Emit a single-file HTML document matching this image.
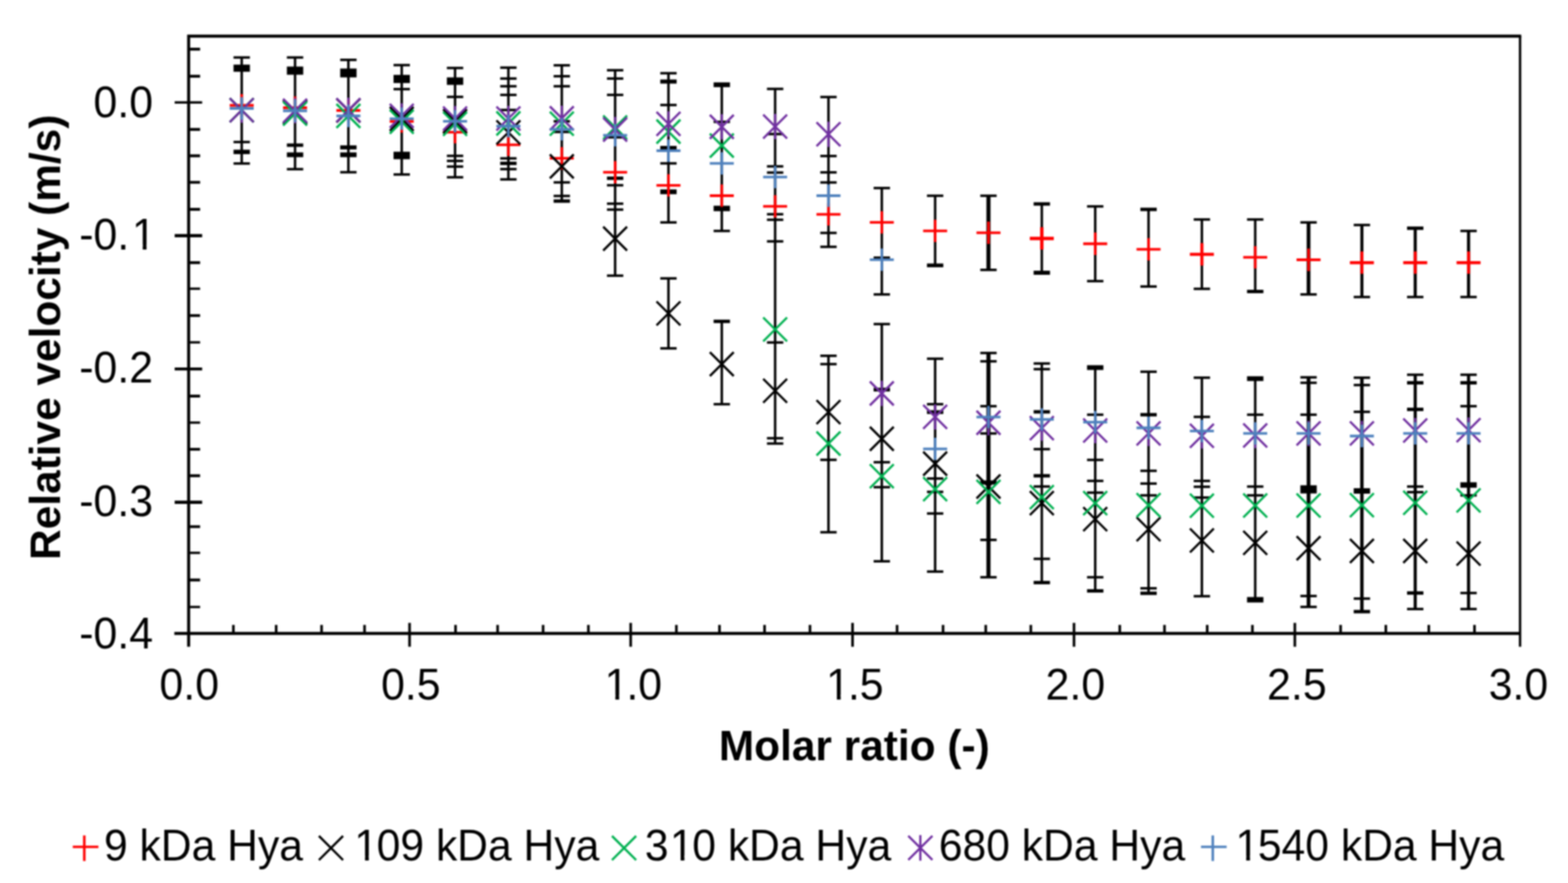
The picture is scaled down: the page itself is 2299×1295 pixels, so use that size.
<!DOCTYPE html>
<html lang="en"><head><meta charset="utf-8"><title>Relative velocity vs molar ratio</title>
<style>
html,body{margin:0;padding:0;background:#fff;}
body{width:2299px;height:1295px;overflow:hidden;font-family:"Liberation Sans",Arial,sans-serif;}
svg{display:block;}
</style></head>
<body>
<svg width="2299" height="1295" viewBox="0 0 2299 1295">
<rect width="2299" height="1295" fill="#fff"/>
<g id="plot" filter="url(#b)">
<defs><filter id="b" x="0" y="0" width="100%" height="100%" filterUnits="userSpaceOnUse" color-interpolation-filters="sRGB"><feGaussianBlur stdDeviation="1.1" color-interpolation-filters="sRGB"/></filter></defs>
<g stroke="#000" stroke-width="4.4" fill="none" stroke-linecap="butt">
<path d="M276.6 948.5 V53.0 H2230.4"/>
<path d="M2228.7 53.0 V948.5" stroke-width="3.5"/>
<path d="M255.6 929.0 H2228.7"/>
<path d="M276.6 72.1 H293.4" stroke-width="4.2"/>
<path d="M276.6 111.8 H293.4" stroke-width="4.2"/>
<path d="M256.1 150.3 H296.4" stroke-width="3.4"/>
<path d="M276.6 189.8 H293.4" stroke-width="4.2"/>
<path d="M276.6 228.5 H293.4" stroke-width="4.2"/>
<path d="M276.6 267.4 H293.4" stroke-width="4.0"/>
<path d="M276.6 307.0 H293.4" stroke-width="4.2"/>
<path d="M256.1 345.6 H296.4" stroke-width="4.8"/>
<path d="M276.6 385.2 H293.4" stroke-width="4.2"/>
<path d="M276.6 423.4 H293.4" stroke-width="3.4"/>
<path d="M276.6 462.8 H293.4" stroke-width="4.0"/>
<path d="M276.6 502.1 H293.4" stroke-width="3.4"/>
<path d="M256.1 541.2 H296.4" stroke-width="4.2"/>
<path d="M276.6 580.9 H293.4" stroke-width="4.2"/>
<path d="M276.6 619.8 H293.4" stroke-width="3.4"/>
<path d="M276.6 658.9 H293.4" stroke-width="4.0"/>
<path d="M276.6 697.7 H293.4" stroke-width="4.2"/>
<path d="M256.1 736.6 H296.4" stroke-width="4.8"/>
<path d="M276.6 772.4 H293.4" stroke-width="4.0"/>
<path d="M276.6 810.8 H293.4" stroke-width="3.4"/>
<path d="M276.6 850.6 H293.4" stroke-width="4.2"/>
<path d="M276.6 890.2 H293.4" stroke-width="3.4"/>
<path d="M342.2 916.5 V929.0 M404.9 916.5 V929.0 M471.5 916.5 V929.0 M534.5 916.5 V929.0 M600.5 913.5 V948.5 M667.9 916.5 V929.0 M729.6 916.5 V929.0 M796.3 916.5 V929.0 M862.7 916.5 V929.0 M924.7 913.5 V948.5 M991.7 916.5 V929.0 M1054.9 916.5 V929.0 M1121.0 916.5 V929.0 M1187.6 916.5 V929.0 M1250.0 913.5 V948.5 M1315.3 916.5 V929.0 M1382.7 916.5 V929.0 M1445.3 916.5 V929.0 M1511.4 916.5 V929.0 M1574.7 913.5 V948.5 M1641.8 916.5 V929.0 M1707.4 916.5 V929.0 M1770.0 916.5 V929.0 M1836.3 916.5 V929.0 M1898.5 913.5 V948.5 M1965.6 916.5 V929.0 M2031.9 916.5 V929.0 M2094.9 916.5 V929.0 M2161.9 916.5 V929.0 " stroke-width="3.8"/>
</g>
<g fill="none"><path d="M354.4 84.3V239.8" stroke="#000" stroke-width="3.6"/><path d="M342.4 84.3H366.4" stroke="#000" stroke-width="3.6"/><path d="M342.4 100H366.4" stroke="#000" stroke-width="10.5"/><path d="M342.4 208.3H366.4" stroke="#000" stroke-width="3.6"/><path d="M342.4 222.8H366.4" stroke="#000" stroke-width="6.5"/><path d="M342.4 239.8H366.4" stroke="#000" stroke-width="3.6"/><path d="M432.6 84.3V248.1" stroke="#000" stroke-width="3.6"/><path d="M420.6 84.3H444.6" stroke="#000" stroke-width="3.6"/><path d="M420.6 103.6H444.6" stroke="#000" stroke-width="12"/><path d="M420.6 212.9H444.6" stroke="#000" stroke-width="5"/><path d="M420.6 227H444.6" stroke="#000" stroke-width="7"/><path d="M420.6 248.1H444.6" stroke="#000" stroke-width="3.6"/><path d="M510.8 87.8V252.6" stroke="#000" stroke-width="3.6"/><path d="M498.8 87.8H522.8" stroke="#000" stroke-width="3.6"/><path d="M498.8 107H522.8" stroke="#000" stroke-width="13"/><path d="M498.8 216.2H522.8" stroke="#000" stroke-width="6"/><path d="M498.8 227H522.8" stroke="#000" stroke-width="7"/><path d="M498.8 252.6H522.8" stroke="#000" stroke-width="3.6"/><path d="M589.0 95.5V255.9" stroke="#000" stroke-width="3.6"/><path d="M577.0 95.5H601.0" stroke="#000" stroke-width="3.6"/><path d="M577.0 115.8H601.0" stroke="#000" stroke-width="12"/><path d="M577.0 130.7H601.0" stroke="#000" stroke-width="3.6"/><path d="M577.0 228H601.0" stroke="#000" stroke-width="11"/><path d="M577.0 255.9H601.0" stroke="#000" stroke-width="3.6"/><path d="M667.2 99.7V260" stroke="#000" stroke-width="3.6"/><path d="M655.2 99.7H679.2" stroke="#000" stroke-width="3.6"/><path d="M655.2 119H679.2" stroke="#000" stroke-width="11"/><path d="M655.2 142.1H679.2" stroke="#000" stroke-width="3.6"/><path d="M655.2 228.6H679.2" stroke="#000" stroke-width="3.6"/><path d="M655.2 236H679.2" stroke="#000" stroke-width="3.6"/><path d="M655.2 244.3H679.2" stroke="#000" stroke-width="3.6"/><path d="M655.2 260H679.2" stroke="#000" stroke-width="3.6"/><path d="M745.4 99.2V263.1" stroke="#000" stroke-width="3.6"/><path d="M733.4 99.2H757.4" stroke="#000" stroke-width="3.6"/><path d="M733.4 115.2H757.4" stroke="#000" stroke-width="3.6"/><path d="M733.4 126.5H757.4" stroke="#000" stroke-width="3.6"/><path d="M733.4 139.2H757.4" stroke="#000" stroke-width="3.6"/><path d="M733.4 161.3H757.4" stroke="#000" stroke-width="3.6"/><path d="M733.4 232.3H757.4" stroke="#000" stroke-width="3.6"/><path d="M733.4 239.6H757.4" stroke="#000" stroke-width="5"/><path d="M733.4 248H757.4" stroke="#000" stroke-width="3.6"/><path d="M733.4 263.1H757.4" stroke="#000" stroke-width="3.6"/><path d="M823.7 95.8V294.9" stroke="#000" stroke-width="3.6"/><path d="M811.7 95.8H835.7" stroke="#000" stroke-width="3.6"/><path d="M811.7 111.8H835.7" stroke="#000" stroke-width="3.6"/><path d="M811.7 126.5H835.7" stroke="#000" stroke-width="3.6"/><path d="M811.7 177.9H835.7" stroke="#000" stroke-width="3.6"/><path d="M811.7 193.5H835.7" stroke="#000" stroke-width="3.6"/><path d="M811.7 267.5H835.7" stroke="#000" stroke-width="3.6"/><path d="M811.7 287.4H835.7" stroke="#000" stroke-width="3.6"/><path d="M811.7 294.9H835.7" stroke="#000" stroke-width="5"/><path d="M901.9 103V404.3" stroke="#000" stroke-width="3.6"/><path d="M889.9 103H913.9" stroke="#000" stroke-width="3.6"/><path d="M889.9 115.2H913.9" stroke="#000" stroke-width="3.6"/><path d="M889.9 139.2H913.9" stroke="#000" stroke-width="3.6"/><path d="M889.9 201.4H913.9" stroke="#000" stroke-width="3.6"/><path d="M889.9 261.4H913.9" stroke="#000" stroke-width="5"/><path d="M889.9 271.7H913.9" stroke="#000" stroke-width="3.6"/><path d="M889.9 298.7H913.9" stroke="#000" stroke-width="3.6"/><path d="M889.9 307.4H913.9" stroke="#000" stroke-width="3.6"/><path d="M889.9 404.3H913.9" stroke="#000" stroke-width="3.6"/><path d="M980.1 107.4V326.2" stroke="#000" stroke-width="3.6"/><path d="M980.1 408.3V510.9" stroke="#000" stroke-width="3.6"/><path d="M968.1 107.4H992.1" stroke="#000" stroke-width="3.6"/><path d="M968.1 119.6H992.1" stroke="#000" stroke-width="6"/><path d="M968.1 154H992.1" stroke="#000" stroke-width="3.6"/><path d="M968.1 217H992.1" stroke="#000" stroke-width="6"/><path d="M968.1 239.6H992.1" stroke="#000" stroke-width="3.6"/><path d="M968.1 281.3H992.1" stroke="#000" stroke-width="7"/><path d="M968.1 326.2H992.1" stroke="#000" stroke-width="3.6"/><path d="M968.1 408.3H992.1" stroke="#000" stroke-width="3.6"/><path d="M968.1 510.9H992.1" stroke="#000" stroke-width="3.6"/><path d="M1058.3 124.3V338.7" stroke="#000" stroke-width="3.6"/><path d="M1058.3 471.3V592.8" stroke="#000" stroke-width="3.6"/><path d="M1046.3 124.3H1070.3" stroke="#000" stroke-width="7"/><path d="M1046.3 178.7H1070.3" stroke="#000" stroke-width="3.6"/><path d="M1046.3 305.7H1070.3" stroke="#000" stroke-width="8"/><path d="M1046.3 338.7H1070.3" stroke="#000" stroke-width="3.6"/><path d="M1046.3 471.3H1070.3" stroke="#000" stroke-width="5"/><path d="M1046.3 592.8H1070.3" stroke="#000" stroke-width="3.6"/><path d="M1136.5 130.4V650.5" stroke="#000" stroke-width="3.6"/><path d="M1124.5 130.4H1148.5" stroke="#000" stroke-width="3.6"/><path d="M1124.5 196.6H1148.5" stroke="#000" stroke-width="3.6"/><path d="M1124.5 244H1148.5" stroke="#000" stroke-width="3.6"/><path d="M1124.5 253.1H1148.5" stroke="#000" stroke-width="3.6"/><path d="M1124.5 314.2H1148.5" stroke="#000" stroke-width="3.6"/><path d="M1124.5 322.3H1148.5" stroke="#000" stroke-width="3.6"/><path d="M1124.5 354H1148.5" stroke="#000" stroke-width="3.6"/><path d="M1124.5 502.3H1148.5" stroke="#000" stroke-width="3.6"/><path d="M1124.5 642.7H1148.5" stroke="#000" stroke-width="3.6"/><path d="M1124.5 650.5H1148.5" stroke="#000" stroke-width="3.6"/><path d="M1214.7 142.3V362" stroke="#000" stroke-width="3.6"/><path d="M1214.7 521.8V780.6" stroke="#000" stroke-width="3.6"/><path d="M1202.7 142.3H1226.7" stroke="#000" stroke-width="3.6"/><path d="M1202.7 228.8H1226.7" stroke="#000" stroke-width="3.6"/><path d="M1202.7 252.8H1226.7" stroke="#000" stroke-width="3.6"/><path d="M1202.7 267.6H1226.7" stroke="#000" stroke-width="3.6"/><path d="M1202.7 341.6H1226.7" stroke="#000" stroke-width="3.6"/><path d="M1202.7 362H1226.7" stroke="#000" stroke-width="3.6"/><path d="M1202.7 521.8H1226.7" stroke="#000" stroke-width="3.6"/><path d="M1202.7 534H1226.7" stroke="#000" stroke-width="3.6"/><path d="M1202.7 674.4H1226.7" stroke="#000" stroke-width="3.6"/><path d="M1202.7 780.6H1226.7" stroke="#000" stroke-width="3.6"/><path d="M1292.9 275.8V431.8" stroke="#000" stroke-width="3.6"/><path d="M1292.9 475.3V823.2" stroke="#000" stroke-width="3.6"/><path d="M1280.9 275.8H1304.9" stroke="#000" stroke-width="3.6"/><path d="M1280.9 377.9H1304.9" stroke="#000" stroke-width="3.6"/><path d="M1280.9 431.8H1304.9" stroke="#000" stroke-width="3.6"/><path d="M1280.9 475.3H1304.9" stroke="#000" stroke-width="3.6"/><path d="M1280.9 571.4H1304.9" stroke="#000" stroke-width="5.5"/><path d="M1280.9 677.9H1304.9" stroke="#000" stroke-width="3.6"/><path d="M1280.9 714.5H1304.9" stroke="#000" stroke-width="3.6"/><path d="M1280.9 823.2H1304.9" stroke="#000" stroke-width="3.6"/><path d="M1371.1 287.1V389.2" stroke="#000" stroke-width="3.6"/><path d="M1371.1 526.1V838.3" stroke="#000" stroke-width="3.6"/><path d="M1359.1 287.1H1383.1" stroke="#000" stroke-width="3.6"/><path d="M1359.1 389.2H1383.1" stroke="#000" stroke-width="5.5"/><path d="M1359.1 526.1H1383.1" stroke="#000" stroke-width="3.6"/><path d="M1359.1 592.8H1383.1" stroke="#000" stroke-width="3.6"/><path d="M1359.1 604.4H1383.1" stroke="#000" stroke-width="5.5"/><path d="M1359.1 701.8H1383.1" stroke="#000" stroke-width="3.6"/><path d="M1359.1 721.4H1383.1" stroke="#000" stroke-width="3.6"/><path d="M1359.1 753.1H1383.1" stroke="#000" stroke-width="3.6"/><path d="M1359.1 838.3H1383.1" stroke="#000" stroke-width="3.6"/><path d="M1449.3 287.1V395.8" stroke="#000" stroke-width="6"/><path d="M1449.3 517.7V846.6" stroke="#000" stroke-width="6"/><path d="M1437.3 287.1H1461.3" stroke="#000" stroke-width="3.6"/><path d="M1437.3 395.8H1461.3" stroke="#000" stroke-width="3.6"/><path d="M1437.3 517.7H1461.3" stroke="#000" stroke-width="3.6"/><path d="M1437.3 529.9H1461.3" stroke="#000" stroke-width="3.6"/><path d="M1437.3 595.7H1461.3" stroke="#000" stroke-width="3.6"/><path d="M1437.3 635.7H1461.3" stroke="#000" stroke-width="3.6"/><path d="M1437.3 707.6H1461.3" stroke="#000" stroke-width="6"/><path d="M1437.3 791.8H1461.3" stroke="#000" stroke-width="3.6"/><path d="M1437.3 846.6H1461.3" stroke="#000" stroke-width="3.6"/><path d="M1527.5 299.1V400" stroke="#000" stroke-width="3.6"/><path d="M1527.5 533.1V854.4" stroke="#000" stroke-width="3.6"/><path d="M1515.5 299.1H1539.5" stroke="#000" stroke-width="5"/><path d="M1515.5 400H1539.5" stroke="#000" stroke-width="6"/><path d="M1515.5 533.1H1539.5" stroke="#000" stroke-width="3.6"/><path d="M1515.5 541.4H1539.5" stroke="#000" stroke-width="3.6"/><path d="M1515.5 604H1539.5" stroke="#000" stroke-width="5"/><path d="M1515.5 658.7H1539.5" stroke="#000" stroke-width="3.6"/><path d="M1515.5 697.8H1539.5" stroke="#000" stroke-width="5"/><path d="M1515.5 713.5H1539.5" stroke="#000" stroke-width="3.6"/><path d="M1515.5 819.6H1539.5" stroke="#000" stroke-width="3.6"/><path d="M1515.5 854.4H1539.5" stroke="#000" stroke-width="5"/><path d="M1605.8 302.7V412.3" stroke="#000" stroke-width="3.6"/><path d="M1605.8 539.1V866.6" stroke="#000" stroke-width="3.6"/><path d="M1593.8 302.7H1617.8" stroke="#000" stroke-width="3.6"/><path d="M1593.8 412.3H1617.8" stroke="#000" stroke-width="3.6"/><path d="M1593.8 539.1H1617.8" stroke="#000" stroke-width="7"/><path d="M1593.8 608.2H1617.8" stroke="#000" stroke-width="3.6"/><path d="M1593.8 674.5H1617.8" stroke="#000" stroke-width="3.6"/><path d="M1593.8 705.3H1617.8" stroke="#000" stroke-width="3.6"/><path d="M1593.8 722.5H1617.8" stroke="#000" stroke-width="3.6"/><path d="M1593.8 846.6H1617.8" stroke="#000" stroke-width="3.6"/><path d="M1593.8 866.6H1617.8" stroke="#000" stroke-width="5"/><path d="M1684.0 307.1V420.2" stroke="#000" stroke-width="3.6"/><path d="M1684.0 545.2V870.1" stroke="#000" stroke-width="3.6"/><path d="M1672.0 307.1H1696.0" stroke="#000" stroke-width="5"/><path d="M1672.0 420.2H1696.0" stroke="#000" stroke-width="3.6"/><path d="M1672.0 545.2H1696.0" stroke="#000" stroke-width="3.6"/><path d="M1672.0 608.2H1696.0" stroke="#000" stroke-width="5"/><path d="M1672.0 690.5H1696.0" stroke="#000" stroke-width="3.6"/><path d="M1672.0 709.2H1696.0" stroke="#000" stroke-width="3.6"/><path d="M1672.0 726.5H1696.0" stroke="#000" stroke-width="3.6"/><path d="M1672.0 862.8H1696.0" stroke="#000" stroke-width="3.6"/><path d="M1672.0 870.1H1696.0" stroke="#000" stroke-width="5"/><path d="M1762.2 321.9V423.6" stroke="#000" stroke-width="3.6"/><path d="M1762.2 553.9V874.4" stroke="#000" stroke-width="3.6"/><path d="M1750.2 321.9H1774.2" stroke="#000" stroke-width="3.6"/><path d="M1750.2 423.6H1774.2" stroke="#000" stroke-width="3.6"/><path d="M1750.2 553.9H1774.2" stroke="#000" stroke-width="3.6"/><path d="M1750.2 611.4H1774.2" stroke="#000" stroke-width="3.6"/><path d="M1750.2 705.3H1774.2" stroke="#000" stroke-width="3.6"/><path d="M1750.2 713.9H1774.2" stroke="#000" stroke-width="3.6"/><path d="M1750.2 729.7H1774.2" stroke="#000" stroke-width="3.6"/><path d="M1750.2 874.4H1774.2" stroke="#000" stroke-width="3.6"/><path d="M1840.4 321.9V427.5" stroke="#000" stroke-width="3.6"/><path d="M1840.4 555.3V879.6" stroke="#000" stroke-width="3.6"/><path d="M1828.4 321.9H1852.4" stroke="#000" stroke-width="3.6"/><path d="M1828.4 427.5H1852.4" stroke="#000" stroke-width="5"/><path d="M1828.4 555.3H1852.4" stroke="#000" stroke-width="7"/><path d="M1828.4 608.2H1852.4" stroke="#000" stroke-width="3.6"/><path d="M1828.4 713.6H1852.4" stroke="#000" stroke-width="3.6"/><path d="M1828.4 726.5H1852.4" stroke="#000" stroke-width="3.6"/><path d="M1828.4 879.6H1852.4" stroke="#000" stroke-width="8"/><path d="M1918.6 326.2V431.8" stroke="#000" stroke-width="5.5"/><path d="M1918.6 553.4V890.1" stroke="#000" stroke-width="5.5"/><path d="M1906.6 326.2H1930.6" stroke="#000" stroke-width="3.6"/><path d="M1906.6 431.8H1930.6" stroke="#000" stroke-width="3.6"/><path d="M1906.6 553.4H1930.6" stroke="#000" stroke-width="3.6"/><path d="M1906.6 561.4H1930.6" stroke="#000" stroke-width="3.6"/><path d="M1906.6 608.2H1930.6" stroke="#000" stroke-width="3.6"/><path d="M1906.6 717.7H1930.6" stroke="#000" stroke-width="12"/><path d="M1906.6 874.1H1930.6" stroke="#000" stroke-width="3.6"/><path d="M1906.6 890.1H1930.6" stroke="#000" stroke-width="3.6"/><path d="M1996.8 330V435.6" stroke="#000" stroke-width="4.5"/><path d="M1996.8 553.9V897" stroke="#000" stroke-width="5"/><path d="M1984.8 330H2008.8" stroke="#000" stroke-width="3.6"/><path d="M1984.8 435.6H2008.8" stroke="#000" stroke-width="3.6"/><path d="M1984.8 553.9H2008.8" stroke="#000" stroke-width="3.6"/><path d="M1984.8 564.7H2008.8" stroke="#000" stroke-width="3.6"/><path d="M1984.8 604H2008.8" stroke="#000" stroke-width="3.6"/><path d="M1984.8 720H2008.8" stroke="#000" stroke-width="8"/><path d="M1984.8 877.9H2008.8" stroke="#000" stroke-width="3.6"/><path d="M1984.8 897H2008.8" stroke="#000" stroke-width="5"/><path d="M2075.0 334.7V435.6" stroke="#000" stroke-width="4.6"/><path d="M2075.0 549.6V893.2" stroke="#000" stroke-width="4.6"/><path d="M2063.0 334.7H2087.0" stroke="#000" stroke-width="5"/><path d="M2063.0 435.6H2087.0" stroke="#000" stroke-width="3.6"/><path d="M2063.0 549.6H2087.0" stroke="#000" stroke-width="3.6"/><path d="M2063.0 561.4H2087.0" stroke="#000" stroke-width="5"/><path d="M2063.0 600.4H2087.0" stroke="#000" stroke-width="5"/><path d="M2063.0 713.6H2087.0" stroke="#000" stroke-width="3.6"/><path d="M2063.0 721.8H2087.0" stroke="#000" stroke-width="3.6"/><path d="M2063.0 869.7H2087.0" stroke="#000" stroke-width="5"/><path d="M2063.0 893.2H2087.0" stroke="#000" stroke-width="3.6"/><path d="M2153.2 338.7V435.6" stroke="#000" stroke-width="4.6"/><path d="M2153.2 549.6V893.2" stroke="#000" stroke-width="4.6"/><path d="M2141.2 338.7H2165.2" stroke="#000" stroke-width="3.6"/><path d="M2141.2 435.6H2165.2" stroke="#000" stroke-width="3.6"/><path d="M2141.2 549.6H2165.2" stroke="#000" stroke-width="3.6"/><path d="M2141.2 561.4H2165.2" stroke="#000" stroke-width="5"/><path d="M2141.2 595.7H2165.2" stroke="#000" stroke-width="3.6"/><path d="M2141.2 711.3H2165.2" stroke="#000" stroke-width="8"/><path d="M2141.2 726.5H2165.2" stroke="#000" stroke-width="3.6"/><path d="M2141.2 869.7H2165.2" stroke="#000" stroke-width="3.6"/><path d="M2141.2 893.2H2165.2" stroke="#000" stroke-width="3.6"/><path d="M336.8 154.5H372.0M354.4 138.1V170.9" stroke="#ff0000" stroke-width="3.8" fill="none"/><path d="M415.0 158.0H450.2M432.6 141.6V174.4" stroke="#ff0000" stroke-width="3.8" fill="none"/><path d="M493.2 162.0H528.4M510.8 145.6V178.4" stroke="#ff0000" stroke-width="3.8" fill="none"/><path d="M571.4 178.1H606.6M589.0 161.7V194.5" stroke="#ff0000" stroke-width="3.8" fill="none"/><path d="M649.6 193.8H684.8M667.2 177.4V210.2" stroke="#ff0000" stroke-width="3.8" fill="none"/><path d="M727.8 212.4H763.0M745.4 196.0V228.8" stroke="#ff0000" stroke-width="3.8" fill="none"/><path d="M806.1 232.2H841.3M823.7 215.8V248.6" stroke="#ff0000" stroke-width="3.8" fill="none"/><path d="M884.3 252.7H919.5M901.9 236.3V269.1" stroke="#ff0000" stroke-width="3.8" fill="none"/><path d="M962.5 271.8H997.7M980.1 255.4V288.2" stroke="#ff0000" stroke-width="3.8" fill="none"/><path d="M1040.7 287.0H1075.9M1058.3 270.6V303.4" stroke="#ff0000" stroke-width="3.8" fill="none"/><path d="M1118.9 302.7H1154.1M1136.5 286.3V319.1" stroke="#ff0000" stroke-width="3.8" fill="none"/><path d="M1197.1 314.4H1232.3M1214.7 298.0V330.8" stroke="#ff0000" stroke-width="3.8" fill="none"/><path d="M1275.3 326.2H1310.5M1292.9 309.8V342.6" stroke="#ff0000" stroke-width="3.8" fill="none"/><path d="M1353.5 338.7H1388.7M1371.1 322.3V355.1" stroke="#ff0000" stroke-width="3.8" fill="none"/><path d="M1431.7 341.3H1466.9M1449.3 324.9V357.7" stroke="#ff0000" stroke-width="3.8" fill="none"/><path d="M1509.9 349.7H1545.1M1527.5 333.3V366.1" stroke="#ff0000" stroke-width="4.9399999999999995" fill="none"/><path d="M1588.2 357.5H1623.4M1605.8 341.1V373.9" stroke="#ff0000" stroke-width="3.8" fill="none"/><path d="M1666.4 365.7H1701.6M1684.0 349.3V382.1" stroke="#ff0000" stroke-width="3.8" fill="none"/><path d="M1744.6 373.0H1779.8M1762.2 356.6V389.4" stroke="#ff0000" stroke-width="4.56" fill="none"/><path d="M1822.8 377.4H1858.0M1840.4 361.0V393.8" stroke="#ff0000" stroke-width="3.8" fill="none"/><path d="M1901.0 381.0H1936.2M1918.6 364.6V397.4" stroke="#ff0000" stroke-width="3.8" fill="none"/><path d="M1979.2 385.2H2014.4M1996.8 368.8V401.6" stroke="#ff0000" stroke-width="4.369999999999999" fill="none"/><path d="M2057.4 385.2H2092.6M2075.0 368.8V401.6" stroke="#ff0000" stroke-width="4.369999999999999" fill="none"/><path d="M2135.6 385.2H2170.8M2153.2 368.8V401.6" stroke="#ff0000" stroke-width="4.369999999999999" fill="none"/><path d="M336.9 144.1L371.9 179.1M336.9 179.1L371.9 144.1" stroke="#000000" stroke-width="3.3" fill="none"/><path d="M415.1 146.8L450.1 181.8M415.1 181.8L450.1 146.8" stroke="#000000" stroke-width="3.3" fill="none"/><path d="M493.3 144.5L528.3 179.5M493.3 179.5L528.3 144.5" stroke="#000000" stroke-width="3.3" fill="none"/><path d="M571.5 156.9L606.5 191.9M571.5 191.9L606.5 156.9" stroke="#000000" stroke-width="3.3" fill="none"/><path d="M649.7 160.3L684.7 195.3M649.7 195.3L684.7 160.3" stroke="#000000" stroke-width="3.3" fill="none"/><path d="M727.9 176.7L762.9 211.7M727.9 211.7L762.9 176.7" stroke="#000000" stroke-width="3.3" fill="none"/><path d="M806.2 226.5L841.2 261.5M806.2 261.5L841.2 226.5" stroke="#000000" stroke-width="3.3" fill="none"/><path d="M884.4 332.5L919.4 367.5M884.4 367.5L919.4 332.5" stroke="#000000" stroke-width="3.3" fill="none"/><path d="M962.6 442.1L997.6 477.1M962.6 477.1L997.6 442.1" stroke="#000000" stroke-width="3.3" fill="none"/><path d="M1040.8 516.5L1075.8 551.5M1040.8 551.5L1075.8 516.5" stroke="#000000" stroke-width="3.3" fill="none"/><path d="M1119.0 555.6L1154.0 590.6M1119.0 590.6L1154.0 555.6" stroke="#000000" stroke-width="3.3" fill="none"/><path d="M1197.2 586.9L1232.2 621.9M1197.2 621.9L1232.2 586.9" stroke="#000000" stroke-width="3.3" fill="none"/><path d="M1275.4 626.0L1310.4 661.0M1275.4 661.0L1310.4 626.0" stroke="#000000" stroke-width="3.3" fill="none"/><path d="M1353.6 662.5L1388.6 697.5M1353.6 697.5L1388.6 662.5" stroke="#000000" stroke-width="3.3" fill="none"/><path d="M1431.8 696.0L1466.8 731.0M1431.8 731.0L1466.8 696.0" stroke="#000000" stroke-width="3.3" fill="none"/><path d="M1510.0 720.3L1545.0 755.3M1510.0 755.3L1545.0 720.3" stroke="#000000" stroke-width="3.3" fill="none"/><path d="M1588.3 743.8L1623.3 778.8M1588.3 778.8L1623.3 743.8" stroke="#000000" stroke-width="3.3" fill="none"/><path d="M1666.5 758.6L1701.5 793.6M1666.5 793.6L1701.5 758.6" stroke="#000000" stroke-width="3.3" fill="none"/><path d="M1744.7 775.2L1779.7 810.2M1744.7 810.2L1779.7 775.2" stroke="#000000" stroke-width="3.3" fill="none"/><path d="M1822.9 778.6L1857.9 813.6M1822.9 813.6L1857.9 778.6" stroke="#000000" stroke-width="3.3" fill="none"/><path d="M1901.1 786.5L1936.1 821.5M1901.1 821.5L1936.1 786.5" stroke="#000000" stroke-width="3.3" fill="none"/><path d="M1979.3 790.5L2014.3 825.5M1979.3 825.5L2014.3 790.5" stroke="#000000" stroke-width="3.3" fill="none"/><path d="M2057.5 790.5L2092.5 825.5M2057.5 825.5L2092.5 790.5" stroke="#000000" stroke-width="3.3" fill="none"/><path d="M2135.7 794.3L2170.7 829.3M2135.7 829.3L2170.7 794.3" stroke="#000000" stroke-width="3.3" fill="none"/><path d="M336.9 144.1L371.9 179.1M336.9 179.1L371.9 144.1" stroke="#00b050" stroke-width="3.3" fill="none"/><path d="M415.1 149.1L450.1 184.1M415.1 184.1L450.1 149.1" stroke="#00b050" stroke-width="3.3" fill="none"/><path d="M493.3 152.5L528.3 187.5M493.3 187.5L528.3 152.5" stroke="#00b050" stroke-width="3.3" fill="none"/><path d="M571.5 161.0L606.5 196.0M571.5 196.0L606.5 161.0" stroke="#00b050" stroke-width="3.3" fill="none"/><path d="M649.7 164.2L684.7 199.2M649.7 199.2L684.7 164.2" stroke="#00b050" stroke-width="3.3" fill="none"/><path d="M727.9 163.5L762.9 198.5M727.9 198.5L762.9 163.5" stroke="#00b050" stroke-width="3.3" fill="none"/><path d="M806.2 163.9L841.2 198.9M806.2 198.9L841.2 163.9" stroke="#00b050" stroke-width="3.3" fill="none"/><path d="M884.4 169.5L919.4 204.5M884.4 204.5L919.4 169.5" stroke="#00b050" stroke-width="3.3" fill="none"/><path d="M962.6 175.5L997.6 210.5M962.6 210.5L997.6 175.5" stroke="#00b050" stroke-width="3.3" fill="none"/><path d="M1040.8 196.0L1075.8 231.0M1040.8 231.0L1075.8 196.0" stroke="#00b050" stroke-width="3.3" fill="none"/><path d="M1119.0 465.6L1154.0 500.6M1119.0 500.6L1154.0 465.6" stroke="#00b050" stroke-width="3.3" fill="none"/><path d="M1197.2 633.0L1232.2 668.0M1197.2 668.0L1232.2 633.0" stroke="#00b050" stroke-width="3.3" fill="none"/><path d="M1275.4 680.8L1310.4 715.8M1275.4 715.8L1310.4 680.8" stroke="#00b050" stroke-width="3.3" fill="none"/><path d="M1353.6 699.9L1388.6 734.9M1353.6 734.9L1388.6 699.9" stroke="#00b050" stroke-width="3.3" fill="none"/><path d="M1431.8 703.8L1466.8 738.8M1431.8 738.8L1466.8 703.8" stroke="#00b050" stroke-width="3.3" fill="none"/><path d="M1510.0 711.6L1545.0 746.6M1510.0 746.6L1545.0 711.6" stroke="#00b050" stroke-width="3.3" fill="none"/><path d="M1588.3 720.3L1623.3 755.3M1588.3 755.3L1623.3 720.3" stroke="#00b050" stroke-width="3.3" fill="none"/><path d="M1666.5 723.3L1701.5 758.3M1666.5 758.3L1701.5 723.3" stroke="#00b050" stroke-width="3.3" fill="none"/><path d="M1744.7 724.2L1779.7 759.2M1744.7 759.2L1779.7 724.2" stroke="#00b050" stroke-width="3.3" fill="none"/><path d="M1822.9 723.8L1857.9 758.8M1822.9 758.8L1857.9 723.8" stroke="#00b050" stroke-width="3.3" fill="none"/><path d="M1901.1 723.8L1936.1 758.8M1901.1 758.8L1936.1 723.8" stroke="#00b050" stroke-width="3.3" fill="none"/><path d="M1979.3 723.3L2014.3 758.3M1979.3 758.3L2014.3 723.3" stroke="#00b050" stroke-width="3.3" fill="none"/><path d="M2057.5 719.8L2092.5 754.8M2057.5 754.8L2092.5 719.8" stroke="#00b050" stroke-width="3.3" fill="none"/><path d="M2135.7 716.3L2170.7 751.3M2135.7 751.3L2170.7 716.3" stroke="#00b050" stroke-width="3.3" fill="none"/><path d="M336.9 144.1L371.9 179.1M336.9 179.1L371.9 144.1M354.4 143.1V180.1" stroke="#7030a0" stroke-width="3.3" fill="none"/><path d="M415.1 144.8L450.1 179.8M415.1 179.8L450.1 144.8M432.6 143.8V180.8" stroke="#7030a0" stroke-width="3.3" fill="none"/><path d="M493.3 144.2L528.3 179.2M493.3 179.2L528.3 144.2M510.8 143.2V180.2" stroke="#7030a0" stroke-width="3.3" fill="none"/><path d="M571.5 152.4L606.5 187.4M571.5 187.4L606.5 152.4M589.0 151.4V188.4" stroke="#7030a0" stroke-width="3.3" fill="none"/><path d="M649.7 156.4L684.7 191.4M649.7 191.4L684.7 156.4M667.2 155.4V192.4" stroke="#7030a0" stroke-width="3.3" fill="none"/><path d="M727.9 156.3L762.9 191.3M727.9 191.3L762.9 156.3M745.4 155.3V192.3" stroke="#7030a0" stroke-width="3.3" fill="none"/><path d="M806.2 156.0L841.2 191.0M806.2 191.0L841.2 156.0M823.7 155.0V192.0" stroke="#7030a0" stroke-width="3.3" fill="none"/><path d="M884.4 172.5L919.4 207.5M884.4 207.5L919.4 172.5M901.9 171.5V208.5" stroke="#7030a0" stroke-width="3.3" fill="none"/><path d="M962.6 164.2L997.6 199.2M962.6 199.2L997.6 164.2M980.1 163.2V200.2" stroke="#7030a0" stroke-width="3.3" fill="none"/><path d="M1040.8 168.5L1075.8 203.5M1040.8 203.5L1075.8 168.5M1058.3 167.5V204.5" stroke="#7030a0" stroke-width="3.3" fill="none"/><path d="M1119.0 168.1L1154.0 203.1M1119.0 203.1L1154.0 168.1M1136.5 167.1V204.1" stroke="#7030a0" stroke-width="3.3" fill="none"/><path d="M1197.2 179.4L1232.2 214.4M1197.2 214.4L1232.2 179.4M1214.7 178.4V215.4" stroke="#7030a0" stroke-width="3.3" fill="none"/><path d="M1275.4 559.5L1310.4 594.5M1275.4 594.5L1310.4 559.5M1292.9 558.5V595.5" stroke="#7030a0" stroke-width="3.3" fill="none"/><path d="M1353.6 593.9L1388.6 628.9M1353.6 628.9L1388.6 593.9M1371.1 592.9V629.9" stroke="#7030a0" stroke-width="3.3" fill="none"/><path d="M1431.8 602.5L1466.8 637.5M1431.8 637.5L1466.8 602.5M1449.3 601.5V638.5" stroke="#7030a0" stroke-width="3.3" fill="none"/><path d="M1510.0 610.4L1545.0 645.4M1510.0 645.4L1545.0 610.4M1527.5 609.4V646.4" stroke="#7030a0" stroke-width="3.3" fill="none"/><path d="M1588.3 613.9L1623.3 648.9M1588.3 648.9L1623.3 613.9M1605.8 612.9V649.9" stroke="#7030a0" stroke-width="3.3" fill="none"/><path d="M1666.5 618.2L1701.5 653.2M1666.5 653.2L1701.5 618.2M1684.0 617.2V654.2" stroke="#7030a0" stroke-width="3.3" fill="none"/><path d="M1744.7 621.7L1779.7 656.7M1744.7 656.7L1779.7 621.7M1762.2 620.7V657.7" stroke="#7030a0" stroke-width="3.3" fill="none"/><path d="M1822.9 621.2L1857.9 656.2M1822.9 656.2L1857.9 621.2M1840.4 620.2V657.2" stroke="#7030a0" stroke-width="3.3" fill="none"/><path d="M1901.1 618.2L1936.1 653.2M1901.1 653.2L1936.1 618.2M1918.6 617.2V654.2" stroke="#7030a0" stroke-width="3.3" fill="none"/><path d="M1979.3 618.2L2014.3 653.2M1979.3 653.2L2014.3 618.2M1996.8 617.2V654.2" stroke="#7030a0" stroke-width="3.3" fill="none"/><path d="M2057.5 613.9L2092.5 648.9M2057.5 648.9L2092.5 613.9M2075.0 612.9V649.9" stroke="#7030a0" stroke-width="3.3" fill="none"/><path d="M2135.7 613.3L2170.7 648.3M2135.7 648.3L2170.7 613.3M2153.2 612.3V649.3" stroke="#7030a0" stroke-width="3.3" fill="none"/><path d="M336.8 159.0H372.0M354.4 142.6V175.4" stroke="#4f81bd" stroke-width="3.8" fill="none"/><path d="M415.0 162.5H450.2M432.6 146.1V178.9" stroke="#4f81bd" stroke-width="3.8" fill="none"/><path d="M493.2 170.0H528.4M510.8 153.6V186.4" stroke="#4f81bd" stroke-width="3.8" fill="none"/><path d="M571.4 174.2H606.6M589.0 157.8V190.6" stroke="#4f81bd" stroke-width="3.8" fill="none"/><path d="M649.6 177.9H684.8M667.2 161.5V194.3" stroke="#4f81bd" stroke-width="3.8" fill="none"/><path d="M727.8 185.0H763.0M745.4 168.6V201.4" stroke="#4f81bd" stroke-width="3.8" fill="none"/><path d="M806.1 189.7H841.3M823.7 173.3V206.1" stroke="#4f81bd" stroke-width="3.8" fill="none"/><path d="M884.3 198.4H919.5M901.9 182.0V214.8" stroke="#4f81bd" stroke-width="3.8" fill="none"/><path d="M962.5 221.0H997.7M980.1 204.6V237.4" stroke="#4f81bd" stroke-width="3.8" fill="none"/><path d="M1040.7 239.6H1075.9M1058.3 223.2V256.0" stroke="#4f81bd" stroke-width="3.8" fill="none"/><path d="M1118.9 259.7H1154.1M1136.5 243.3V276.1" stroke="#4f81bd" stroke-width="3.8" fill="none"/><path d="M1197.1 287.0H1232.3M1214.7 270.6V303.4" stroke="#4f81bd" stroke-width="3.8" fill="none"/><path d="M1275.3 380.8H1310.5M1292.9 364.4V397.2" stroke="#4f81bd" stroke-width="3.8" fill="none"/><path d="M1353.5 658.3H1388.7M1371.1 641.9V674.7" stroke="#4f81bd" stroke-width="3.8" fill="none"/><path d="M1431.7 611.7H1466.9M1449.3 595.3V628.1" stroke="#4f81bd" stroke-width="3.8" fill="none"/><path d="M1509.9 615.2H1545.1M1527.5 598.8V631.6" stroke="#4f81bd" stroke-width="3.8" fill="none"/><path d="M1588.2 619.2H1623.4M1605.8 602.8V635.6" stroke="#4f81bd" stroke-width="3.8" fill="none"/><path d="M1666.4 627.5H1701.6M1684.0 611.1V643.9" stroke="#4f81bd" stroke-width="3.8" fill="none"/><path d="M1744.6 632.2H1779.8M1762.2 615.8V648.6" stroke="#4f81bd" stroke-width="3.8" fill="none"/><path d="M1822.8 635.7H1858.0M1840.4 619.3V652.1" stroke="#4f81bd" stroke-width="3.8" fill="none"/><path d="M1901.0 635.7H1936.2M1918.6 619.3V652.1" stroke="#4f81bd" stroke-width="3.8" fill="none"/><path d="M1979.2 639.5H2014.4M1996.8 623.1V655.9" stroke="#4f81bd" stroke-width="3.8" fill="none"/><path d="M2057.4 635.7H2092.6M2075.0 619.3V652.1" stroke="#4f81bd" stroke-width="3.8" fill="none"/><path d="M2135.6 635.7H2170.8M2153.2 619.3V652.1" stroke="#4f81bd" stroke-width="3.8" fill="none"/></g>
<g font-family="'Liberation Sans', Arial, sans-serif" font-size="62.5" fill="#000" style="white-space:pre">
<text transform="translate(224.4 171.6) scale(1.005 1.045)" text-anchor="end">0.0</text>
<g transform="translate(224.4 365.6) scale(1.005 1.045)"><text x="-107.70 -86.88 -52.12 -30.76">-0.1</text><g fill="#fff"><rect x="-27.10" y="-6.56" width="12.05" height="7.63"/><rect x="-9.52" y="-6.56" width="11.57" height="7.63"/></g></g>
<text transform="translate(224.4 561.4) scale(1.005 1.045)" text-anchor="end">-0.2</text>
<text transform="translate(224.4 756.5) scale(1.005 1.045)" text-anchor="end">-0.3</text>
<text transform="translate(224.4 951.1) scale(1.005 1.045)" text-anchor="end">-0.4</text>
<text transform="translate(277.5 1026.0) scale(1.005 1.045)" text-anchor="middle">0.0</text>
<text transform="translate(602.3 1026.0) scale(1.005 1.045)" text-anchor="middle">0.5</text>
<g transform="translate(927.1 1026.0) scale(1.005 1.045)"><text x="-40.44 -8.68 8.68">1.0</text><g fill="#fff"><rect x="-36.78" y="-6.56" width="12.05" height="7.63"/><rect x="-19.20" y="-6.56" width="11.57" height="7.63"/></g></g>
<g transform="translate(1251.9 1026.0) scale(1.005 1.045)"><text x="-40.44 -8.68 8.68">1.5</text><g fill="#fff"><rect x="-36.78" y="-6.56" width="12.05" height="7.63"/><rect x="-19.20" y="-6.56" width="11.57" height="7.63"/></g></g>
<text transform="translate(1576.7 1026.0) scale(1.005 1.045)" text-anchor="middle">2.0</text>
<text transform="translate(1901.5 1026.0) scale(1.005 1.045)" text-anchor="middle">2.5</text>
<text transform="translate(2226.3 1026.0) scale(1.005 1.045)" text-anchor="middle">3.0</text>
<text transform="translate(1252.5 1114.5) scale(0.995 1.0)" text-anchor="middle" font-weight="bold">Molar ratio (-)</text>
<text transform="translate(88.0 494.6) rotate(-90) scale(0.995 1.0)" text-anchor="middle" font-weight="bold">Relative velocity (m/s)</text>
<text transform="translate(152.5 1261.8) scale(1.0 1.045)" text-anchor="start">9 kDa Hya</text>
<g transform="translate(517.5 1261.8) scale(1.0 1.045)"><text x="2.00 34.76 69.52 104.28">109 kDa Hya</text><g fill="#fff"><rect x="5.66" y="-6.56" width="12.05" height="7.63"/><rect x="23.24" y="-6.56" width="11.57" height="7.63"/></g></g>
<g transform="translate(945.5 1261.8) scale(1.0 1.045)"><text x="0.00 36.76 69.52 104.28">310 kDa Hya</text><g fill="#fff"><rect x="40.42" y="-6.56" width="12.05" height="7.63"/><rect x="58.00" y="-6.56" width="11.57" height="7.63"/></g></g>
<text transform="translate(1376.5 1261.8) scale(1.0 1.045)" text-anchor="start">680 kDa Hya</text>
<g transform="translate(1809.5 1261.8) scale(1.0 1.045)"><text x="2.00 34.76 69.52 104.28 139.04">1540 kDa Hya</text><g fill="#fff"><rect x="5.66" y="-6.56" width="12.05" height="7.63"/><rect x="23.24" y="-6.56" width="11.57" height="7.63"/></g></g>
</g>
<g fill="none"><path d="M106.7 1242.0H144.3M123.6 1225.2V1262.8" stroke="#ff0000" stroke-width="3.7" fill="none"/><path d="M467.6 1226.0L503.0 1261.4M467.6 1261.4L503.0 1226.0" stroke="#000000" stroke-width="3.3" fill="none"/><path d="M897.3 1226.0L932.7 1261.4M897.3 1261.4L932.7 1226.0" stroke="#00b050" stroke-width="3.3" fill="none"/><path d="M1331.7 1225.8L1367.1 1261.2M1331.7 1261.2L1367.1 1225.8M1349.4 1224.8V1262.2" stroke="#7030a0" stroke-width="3.3" fill="none"/><path d="M1760.9 1242.0H1798.5M1778.2 1225.2V1262.8" stroke="#4f81bd" stroke-width="3.7" fill="none"/></g>
</g>
</svg>
</body></html>
